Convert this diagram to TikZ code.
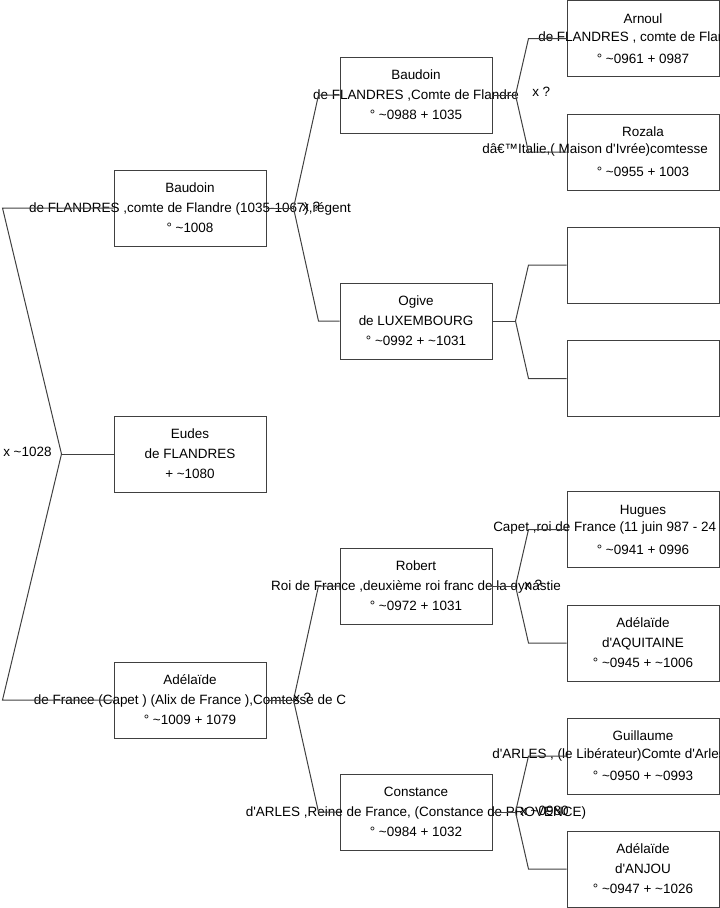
\documentclass[tikz,border=0pt]{standalone}
\usepackage{fontspec}
\newfontfamily\chartfont{Liberation Sans}
\definecolor{linegray}{HTML}{404040}

\begin{document}
\begin{tikzpicture}[x=0.75pt, y=-0.75pt,
  person/.style={draw=linegray, line width=0.75pt, minimum width=114pt, minimum height=57pt, inner sep=0pt},
  info/.style={font=\chartfont\fontsize{10.1}{15}\selectfont, align=center, inner sep=0pt},
  tag/.style={font=\chartfont\fontsize{10.1}{15}\selectfont, anchor=west, inner sep=0pt},
  link/.style={draw=linegray, line width=0.75pt}]
  \useasboundingbox (0,0) rectangle (719,908);

  % generation 1
  \node[person] (baudoin1) at (190,208) {};
  \node[person] (eudes) at (190,454) {};
  \node[person] (adelaide1) at (190,700) {};
  % generation 2
  \node[person] (baudoin2) at (416,95) {};
  \node[person] (ogive) at (416,321) {};
  \node[person] (robert) at (416,586) {};
  \node[person] (constance) at (416,812) {};
  % generation 3
  \node[person] (arnoul) at (643,38.5) {};
  \node[person] (rozala) at (643,152) {};
  \node[person] (ogivefather) at (643,265) {};
  \node[person] (ogivemother) at (643,378.5) {};
  \node[person] (hugues) at (643,529.5) {};
  \node[person] (adelaide2) at (643,643) {};
  \node[person] (guillaume) at (643,756) {};
  \node[person] (adelaide3) at (643,869) {};

  % texts of the boxes
  \node[info] (baudoin1t) at (baudoin1) {Baudoin\\de FLANDRES ,comte de Flandre (1035-1067),régent\\° \textasciitilde1008};
  \node[info] (eudest) at (eudes) {Eudes\\de FLANDRES\\+ \textasciitilde1080};
  \node[info] (adelaide1t) at (adelaide1) {Adélaïde\\de France (Capet ) (Alix de France ),Comtesse de C\\° \textasciitilde1009 + 1079};
  \node[info] (baudoin2t) at (baudoin2) {Baudoin\\de FLANDRES ,Comte de Flandre\\° \textasciitilde0988 + 1035};
  \node[info] (ogivet) at (ogive) {Ogive\\de LUXEMBOURG\\° \textasciitilde0992 + \textasciitilde1031};
  \node[info] (robertt) at (robert) {Robert\\Roi de France ,deuxième roi franc de la dynastie\\° \textasciitilde0972 + 1031};
  \node[info] (constancet) at (constance) {Constance\\d'ARLES ,Reine de France, (Constance de PROVENCE)\\° \textasciitilde0984 + 1032};
  \node[info] (arnoult) at (arnoul) {Arnoul\\\mbox{}\\° \textasciitilde0961 + 0987};
  \node[tag] (arnoulm) at (538,37) {de FLANDRES , comte de Flan};
  \node[info] (rozalat) at (rozala) {Rozala\\\mbox{}\\° \textasciitilde0955 + 1003};
  \node[tag] (rozalam) at (482,150) {dâ€™Italie,( Maison d'Ivrée)comtesse};
  \node[info] (huguest) at (hugues) {Hugues\\\mbox{}\\° \textasciitilde0941 + 0996};
  \node[tag] (huguesm) at (493,528) {Capet ,roi de France (11 juin 987 - 24};
  \node[info] (adelaide2t) at (adelaide2) {Adélaïde\\d'AQUITAINE\\° \textasciitilde0945 + \textasciitilde1006};
  \node[info] (guillaumet) at (guillaume) {Guillaume\\\mbox{}\\° \textasciitilde0950 + \textasciitilde0993};
  \node[tag] (guillaumem) at (492,755) {d'ARLES , (le Libérateur)Comte d'Arles};
  \node[info] (adelaide3t) at (adelaide3) {Adélaïde\\d'ANJOU\\° \textasciitilde0947 + \textasciitilde1026};

  % forks
  \path (eudes.west) ++(-52,0) coordinate (eudesfork);
  \draw[link] (eudes.west) -- (eudesfork);
  \draw[link] (baudoin1.west) -- ++(-111,0) -- (eudesfork);
  \draw[link] (adelaide1.west) -- ++(-111,0) -- (eudesfork);

  \path (baudoin1.east) ++(27,0) coordinate (baudoin1fork);
  \draw[link] (baudoin1.east) -- (baudoin1fork);
  \draw[link] (baudoin2.west) -- ++(-21,0) -- (baudoin1fork);
  \draw[link] (ogive.west) -- ++(-21,0) -- (baudoin1fork);

  \path (adelaide1.east) ++(27,0) coordinate (adelaide1fork);
  \draw[link] (adelaide1.east) -- (adelaide1fork);
  \draw[link] (robert.west) -- ++(-21,0) -- (adelaide1fork);
  \draw[link] (constance.west) -- ++(-21,0) -- (adelaide1fork);

  \path (baudoin2.east) ++(23,0) coordinate (baudoin2fork);
  \draw[link] (baudoin2.east) -- (baudoin2fork);
  \draw[link] (arnoul.west) -- ++(-38,0) -- (baudoin2fork);
  \draw[link] (rozala.west) -- ++(-38,0) -- (baudoin2fork);

  \path (ogive.east) ++(23,0) coordinate (ogivefork);
  \draw[link] (ogive.east) -- (ogivefork);
  \draw[link] (ogivefather.west) -- ++(-38,0) -- (ogivefork);
  \draw[link] (ogivemother.west) -- ++(-38,0) -- (ogivefork);

  \path (robert.east) ++(23,0) coordinate (robertfork);
  \draw[link] (robert.east) -- (robertfork);
  \draw[link] (hugues.west) -- ++(-38,0) -- (robertfork);
  \draw[link] (adelaide2.west) -- ++(-38,0) -- (robertfork);

  \path (constance.east) ++(23,0) coordinate (constancefork);
  \draw[link] (constance.east) -- (constancefork);
  \draw[link] (guillaume.west) -- ++(-38,0) -- (constancefork);
  \draw[link] (adelaide3.west) -- ++(-38,0) -- (constancefork);

  % marriages
  \node[tag] (eudesx) at (3,452) {x \textasciitilde1028};
  \node[tag] (baudoin1x) at (302,207) {x ?};
  \node[tag] (adelaide1x) at (293,698) {x ?};
  \node[tag] (baudoin2x) at (532,92) {x ?};
  \node[tag] (robertx) at (524,585) {x ?};
  \node[tag] (constancex) at (520,811) {x \textasciitilde0980};
\end{tikzpicture}
\end{document}
